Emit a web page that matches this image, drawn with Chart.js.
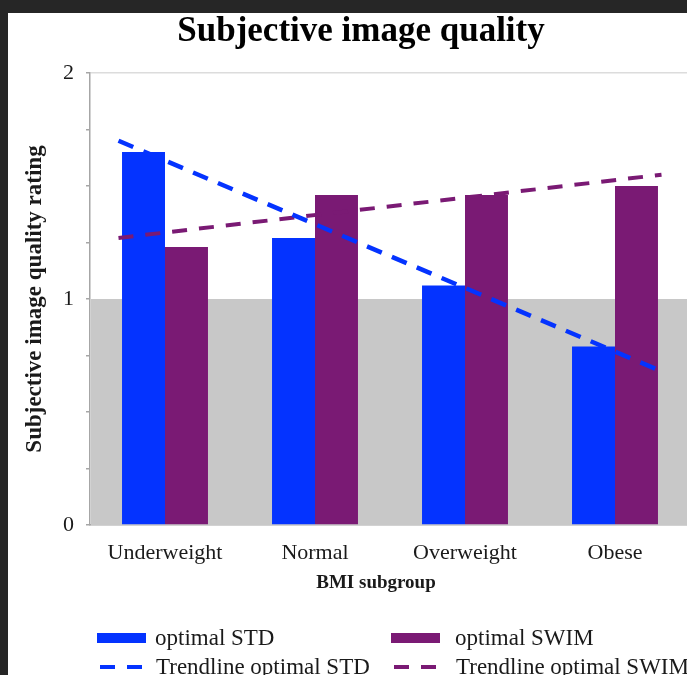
<!DOCTYPE html>
<html><head><meta charset="utf-8">
<script src="https://cdn.jsdelivr.net/npm/chart.js@4/dist/chart.umd.min.js"></script>
<style>
html,body{margin:0;padding:0;background:#262626;overflow:hidden;width:687px;height:675px;}
#wrap{position:absolute;left:8px;top:13px;width:692px;height:662px;background:#fff;}
canvas{display:block;}
</style></head><body>
<div id="wrap"><canvas id="c" width="692" height="662"></canvas></div>
<script>
const TITLE = 'Subjective image quality';
const X_TITLE = 'BMI subgroup';
const Y_TITLE = 'Subjective image quality rating';
const categories = ['Underweight', 'Normal', 'Overweight', 'Obese'];
const seriesNames = ['optimal STD', 'optimal SWIM', 'Trendline optimal STD', 'Trendline optimal SWIM'];
const optimalSTD = [1.65, 1.27, 1.06, 0.79];
const optimalSWIM = [1.23, 1.46, 1.46, 1.50];
const trendX = [-0.31, 3.31];      // trendline extent, in category-index units
const trendSTD = [1.70, 0.68];
const trendSWIM = [1.27, 1.55];
const yTickLabels = [0, 1, 2];
const bandRange = [0, 1];

const SERIF = '"Liberation Serif", "Times New Roman", serif';
const BLUE = '#0433ff';
const PURPLE = '#7a1a74';
const TEXT = '#1a1a1a';

const bandPlugin = {
  id: 'band',
  beforeDatasetsDraw(chart) {
    const {ctx, chartArea: a, scales: {y}} = chart;
    const y0 = y.getPixelForValue(bandRange[0]);
    const y1 = y.getPixelForValue(bandRange[1]);
    ctx.save();
    ctx.fillStyle = '#c8c8c8';
    ctx.fillRect(a.left + 1, y1, a.right - a.left, y0 - y1);
    ctx.restore();
  }
};

const textPlugin = {
  id: 'texts',
  afterDraw(chart) {
    const ctx = chart.ctx;
    ctx.save();
    ctx.fillStyle = '#000';
    ctx.textAlign = 'center';
    ctx.textBaseline = 'alphabetic';
    ctx.font = 'bold 35px ' + SERIF;
    ctx.fillText(TITLE, 353, 28);
    ctx.fillStyle = TEXT;
    ctx.font = 'bold 19px ' + SERIF;
    ctx.fillText(X_TITLE, 368, 575);
    const ds = chart.data.datasets;
    const cols = [89, 383];
    const textCols = [147, 447];
    const rows = [625, 654];
    ctx.font = '23px ' + SERIF;
    ctx.textAlign = 'left';
    ds.forEach((d, i) => {
      const c = i % 2;
      const col = cols[c];
      const row = rows[Math.floor(i / 2)];
      if (d.type === 'line') {
        ctx.strokeStyle = d.borderColor;
        ctx.lineWidth = 4;
        ctx.setLineDash([15, 12]);
        ctx.beginPath();
        ctx.moveTo(col + 3, row);
        ctx.lineTo(col + 47, row);
        ctx.stroke();
        ctx.setLineDash([]);
      } else {
        ctx.fillStyle = d.backgroundColor;
        ctx.fillRect(col, row - 5, 49, 10);
      }
      ctx.fillStyle = TEXT;
      ctx.fillText(d.label, textCols[c] + (d.type === 'line' ? 1 : 0), row + 7);
    });
    ctx.restore();
  }
};

new Chart(document.getElementById('c'), {
  type: 'bar',
  data: {
    datasets: [
      {type: 'bar', label: seriesNames[0], data: optimalSTD.map((y, i) => ({x: i, y})),
       backgroundColor: BLUE, order: 2, categoryPercentage: 0.573, barPercentage: 1.0},
      {type: 'bar', label: seriesNames[1], data: optimalSWIM.map((y, i) => ({x: i, y})),
       backgroundColor: PURPLE, order: 2, categoryPercentage: 0.573, barPercentage: 1.0},
      {type: 'line', label: seriesNames[2], order: 1,
       data: trendX.map((x, i) => ({x, y: trendSTD[i]})),
       borderColor: BLUE, borderWidth: 4.5, borderDash: [16, 11], pointRadius: 0, fill: false, tension: 0},
      {type: 'line', label: seriesNames[3], order: 1,
       data: trendX.map((x, i) => ({x, y: trendSWIM[i]})),
       borderColor: PURPLE, borderWidth: 4, borderDash: [15, 12], pointRadius: 0, fill: false, tension: 0}
    ]
  },
  options: {
    responsive: false,
    animation: false,
    devicePixelRatio: 1,
    layout: {padding: {left: 0, right: 10, top: 60, bottom: 100}},
    plugins: {legend: {display: false}, tooltip: {enabled: false}, title: {display: false}},
    scales: {
      x: {
        type: 'linear', offset: false, min: -0.5, max: categories.length - 0.5,
        afterBuildTicks(s) { s.ticks = categories.map((_, i) => ({value: i})); },
        grid: {display: true, drawOnChartArea: false, drawTicks: false, offset: false},
        border: {display: true, color: '#a6a6a6', width: 1.5},
        ticks: {padding: 15, color: TEXT, font: {family: SERIF, size: 22}, maxRotation: 0, autoSkip: false,
                callback: v => categories[v] !== undefined ? categories[v] : ''},
        afterFit(s) { s.height = 50; }
      },
      y: {
        min: 0, max: 2, stacked: false,
        ticks: {
          stepSize: 0.25, autoSkip: false,
          callback: v => yTickLabels.includes(v) ? String(v) : '',
          padding: 12, color: TEXT, font: {family: SERIF, size: 22}
        },
        grid: {
          color: c => (c.tick && c.tick.value === 2) ? '#dcdcdc' : 'rgba(0,0,0,0)',
          tickColor: '#a6a6a6', tickLength: 4, lineWidth: 1.5
        },
        border: {display: true, color: '#a6a6a6', width: 1.5},
        title: {display: true, text: Y_TITLE, color: TEXT,
                font: {family: SERIF, size: 23, weight: 'bold'}, padding: {top: 13, bottom: 0}},
        afterFit(s) { s.width = 82; }
      }
    }
  },
  plugins: [bandPlugin, textPlugin]
});
</script>
</body></html>
